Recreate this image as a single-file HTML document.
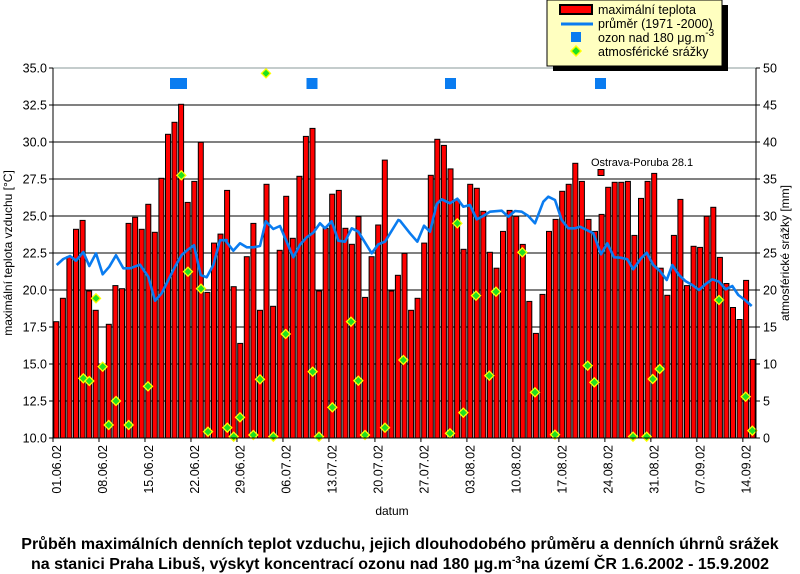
<!DOCTYPE html>
<html><head><meta charset="utf-8"><style>
html,body{margin:0;padding:0;background:#fff;width:800px;height:574px;overflow:hidden}
svg{display:block;font-family:"Liberation Sans",Arial,sans-serif}
</style></head><body>
<svg id="s" width="800" height="574" xmlns="http://www.w3.org/2000/svg">
<rect width="800" height="574" fill="#fff"/>
<g id="grid"></g>
<g id="bars"></g>
<polyline id="avg" fill="none" stroke="#0a7cf0" stroke-width="2.6" stroke-linejoin="round"/>
<g id="oz" fill="#0a7cf0">
<rect x="170" y="78" width="17" height="11"/><rect x="306.5" y="78" width="11" height="11"/>
<rect x="445" y="78" width="11" height="11"/><rect x="595" y="78" width="11" height="11"/>
</g>
<g id="pr"></g>
<g id="axes"></g>
<rect x="598" y="169.5" width="6" height="6" fill="#f00" stroke="#000" stroke-width="1"/>
<text x="591" y="166" font-size="11">Ostrava-Poruba 28.1</text>
<!-- legend -->
<rect x="553" y="5" width="175" height="66" fill="#000"/>
<rect x="547" y="0" width="175" height="66" fill="#ffffc0" stroke="#000" stroke-width="1"/>
<rect x="560" y="5" width="32" height="9" fill="#f00" stroke="#000" stroke-width="2"/>
<line x1="561" y1="24" x2="593" y2="24" stroke="#0a7cf0" stroke-width="3"/>
<rect x="571" y="32" width="10" height="10" fill="#0a7cf0"/>
<polygon points="576,46 581,51 576,56 571,51" fill="#20e020" stroke="#ffff00" stroke-width="1.5"/>
<g font-size="12.5">
<text x="598" y="14">maximální teplota</text>
<text x="598" y="28">průměr  (1971 -2000)</text>
<text x="598" y="42">ozon nad  180 μg.m<tspan font-size="10" dy="-6">-3</tspan></text>
<text x="598" y="56">atmosférické srážky</text>
</g>
<text x="392" y="515" font-size="12" text-anchor="middle">datum</text>
<text transform="translate(12,253) rotate(-90)" font-size="12" text-anchor="middle">maximální teplota vzduchu [°C]</text>
<text transform="translate(789,253) rotate(-90)" font-size="12" text-anchor="middle">atmosférické srážky [mm]</text>
<text x="400" y="549" font-size="16" font-weight="bold" text-anchor="middle">Průběh maximálních denních teplot vzduchu, jejich dlouhodobého průměru a denních úhrnů srážek</text>
<text x="400" y="569" font-size="16" font-weight="bold" text-anchor="middle">na stanici Praha  Libuš, výskyt koncentrací ozonu nad 180 μg.m<tspan font-size="10" dy="-6">-3</tspan><tspan dy="6">na území ČR 1.6.2002 - 15.9.2002</tspan></text>
</svg>
<script>
var NS="http://www.w3.org/2000/svg";
function el(p,t,a,txt){var e=document.createElementNS(NS,t);for(var k in a)e.setAttribute(k,a[k]);if(txt!=null)e.textContent=txt;document.getElementById(p).appendChild(e);return e;}
var L=53,R=756,T=68,B=438,dx=6.57;
function ty(t){return B-(t-10)*14.8;}
for(var i=0;i<=10;i++){var y=T+i*37;el("grid","line",{x1:L,x2:R,y1:y,y2:y,stroke:i==0?"#8a9a9a":"#000","stroke-width":1});}
var d=[17.86,19.44,22.25,24.1,24.7,19.93,18.63,14.82,17.68,20.3,20.09,24.5,24.91,24.1,25.79,23.9,27.55,30.52,31.33,32.55,25.92,27.34,29.98,19.84,23.17,23.78,26.73,
20.22,16.39,22.25,24.5,18.63,27.14,18.9,22.68,26.33,23.49,27.68,30.38,30.92,19.93,24.17,26.47,26.73,24.17,23.09,24.96,19.5,22.25,24.39,28.78,19.93,20.99,22.47,
18.63,19.44,23.17,27.75,30.18,29.77,28.18,26.08,22.75,27.14,26.87,25.32,22.55,21.47,23.96,25.38,24.98,23.08,19.23,17.07,19.7,23.96,24.77,26.67,27.14,28.56,27.34,
24.77,23.96,25.11,26.94,27.28,27.28,27.34,23.69,26.19,27.34,27.88,21.47,19.64,23.69,26.12,20.3,22.95,22.88,24.98,25.59,22.2,20.44,18.82,18.01,20.65,15.31];
for(var i=0;i<d.length;i++){var cx=L+dx*(i+0.5),y=ty(d[i]);el("bars","rect",{x:(cx-2.5).toFixed(1),y:y.toFixed(1),width:5,height:(B-y).toFixed(1),fill:"#f00",stroke:"#000","stroke-width":1});}
var segs=[[50,[[20,615],[40,597],[60,588],[78,602],[100,576],[118,618],[138,580],[158,643],[178,620],[198,586],[220,625],[240,625],[270,614],[295,650],[315,722],[335,700],[355,660],[375,620],[395,585],[415,568],[432,556],[452,645],[470,652],[490,615],[510,541],[530,540]]],
[225,[[0,540],[25,572],[45,550],[65,562],[85,562],[105,558],[122,484],[145,507],[165,498],[205,592],[225,554],[245,532],[265,518],[285,490],[300,505],[320,484],[340,542],[360,545],[380,505],[400,515],[440,580],[460,553],[480,545],[520,480]]],
[400,[[0,482],[30,520],[52,545],[72,497],[90,515],[110,432],[125,418],[150,430],[172,416],[190,440],[210,435],[230,478],[250,468],[270,455],[305,452],[325,470],[345,453],[365,455],[385,468],[405,490],[430,425],[445,410],[465,420],[485,480],[505,505]]],
[575,[[0,505],[15,500],[35,510],[55,520],[78,583],[97,550],[117,592],[137,593],[157,598],[175,628],[197,596],[215,578],[235,615],[255,633],[275,660],[292,615],[312,645],[332,664],[352,675],[372,690],[392,672],[412,658],[432,665],[452,688],[472,678],[490,705],[510,720],[530,738]]]];
var pts=[];segs.forEach(function(s){s[1].forEach(function(p){pts.push((s[0]+p[0]/3).toFixed(1)+","+(60+p[1]/3).toFixed(1));});});
document.getElementById("avg").setAttribute("points",pts.join(" "));
var pr=[[50,[[100,955],[118,963],[138,715],[158,920],[176,1095],[198,1023],[236,1095],[294,979],[394,346],[414,635],[453,686],[474,1115],[532,1103]]],
[225,[[26,1130],[45,1072],[85,1125],[105,958],[123,40],[145,1130],[182,822],[263,935],[282,1130],[322,1042],[378,785],[400,962],[420,1125],[480,1103],[535,900]]],
[400,[[150,1120],[172,490],[190,1058],[228,707],[268,947],[288,695],[367,577],[405,997],[465,1124]]],
[575,[[38,917],[58,967],[174,1130],[215,1130],[233,957],[254,927],[432,720],[512,1010],[532,1112]]]];
pr.forEach(function(s){s[1].forEach(function(p){var x=s[0]+p[0]/3,y=60+p[1]/3;
el("pr","polygon",{points:x+","+(y-4.5)+" "+(x+4.5)+","+y+" "+x+","+(y+4.5)+" "+(x-4.5)+","+y,fill:"#20e020",stroke:"#ffff00","stroke-width":1.3});});});
el("axes","line",{x1:L,x2:L,y1:T,y2:B,stroke:"#000"});
el("axes","line",{x1:R,x2:R,y1:T,y2:B,stroke:"#000"});
el("axes","line",{x1:L,x2:R,y1:B,y2:B,stroke:"#000"});
for(var i=0;i<=10;i++){var y=T+i*37;
el("axes","line",{x1:L-4,x2:L,y1:y,y2:y,stroke:"#000"});
el("axes","line",{x1:R,x2:R+4,y1:y,y2:y,stroke:"#000"});
el("axes","text",{x:L-6,y:y+4.5,"font-size":12.5,"text-anchor":"end"},(35-i*2.5).toFixed(1));
el("axes","text",{x:R+7,y:y+4.5,"font-size":12.5},String(50-i*5));}
var labs=["01.06.02","08.06.02","15.06.02","22.06.02","29.06.02","06.07.02","13.07.02","20.07.02","27.07.02","03.08.02","10.08.02","17.08.02","24.08.02","31.08.02","07.09.02","14.09.02"];
for(var k=0;k<labs.length;k++){var x=L+dx*7*k;
el("axes","line",{x1:x,x2:x,y1:B,y2:B+4,stroke:"#000"});
el("axes","text",{transform:"translate("+(x+dx*0.5+4.5).toFixed(1)+",445) rotate(-90)","font-size":12.5,"text-anchor":"end"},labs[k]);}
</script>
</body></html>
